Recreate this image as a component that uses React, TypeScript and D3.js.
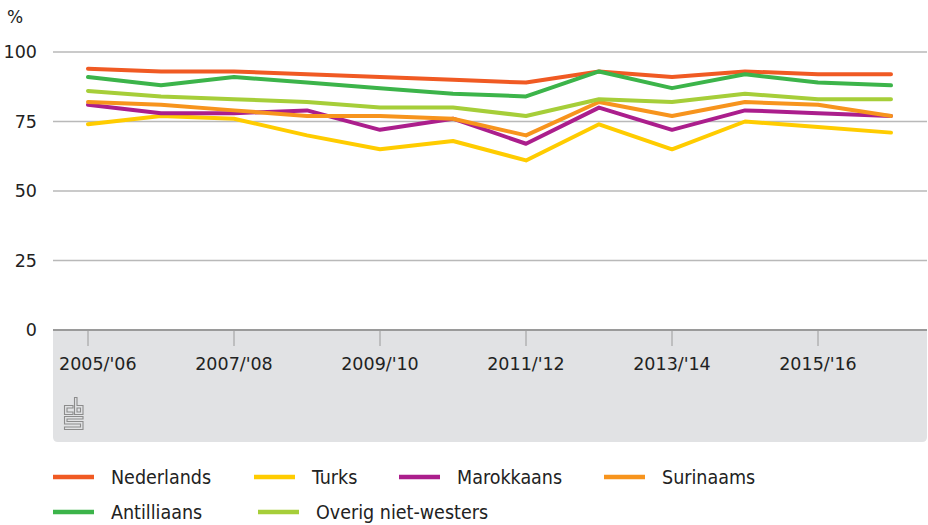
import React from "react";
import * as d3 from "d3";

const years = ["2005/'06", "2006/'07", "2007/'08", "2008/'09", "2009/'10", "2010/'11", "2011/'12", "2012/'13", "2013/'14", "2014/'15", "2015/'16", "2016/'17"];
const nederlands = [94, 93, 93, 92, 91, 90, 89, 93, 91, 93, 92, 92];
const turks = [74, 77, 76, 70, 65, 68, 61, 74, 65, 75, 73, 71];
const marokkaans = [81, 78, 78, 79, 72, 76, 67, 80, 72, 79, 78, 77];
const surinaams = [82, 81, 79, 77, 77, 76, 70, 82, 77, 82, 81, 77];
const antilliaans = [91, 88, 91, 89, 87, 85, 84, 93, 87, 92, 89, 88];
const overig = [86, 84, 83, 82, 80, 80, 77, 83, 82, 85, 83, 83];
const yTicks = [0, 25, 50, 75, 100];
const seriesNames = ["Nederlands", "Turks", "Marokkaans", "Surinaams", "Antilliaans", "Overig niet-westers"];
const seriesValues = [nederlands, turks, marokkaans, surinaams, antilliaans, overig];
const seriesColors = ["#f05a23", "#ffcc00", "#ab1e8c", "#f7941d", "#3cb44a", "#a6ce39"];

const W = 928;
const H = 525;
const plotLeft = 53;
const plotRight = 927;
const panelBottom = 442;
const tickFont = "'DejaVu Sans', sans-serif";
const legendFont = "'DejaVu Sans Condensed', 'DejaVu Sans', sans-serif";

// legend layout: [x of swatch, row]
const legendLayout: [number, number][] = [
  [53, 0], [254, 0], [399, 0], [604, 0], [53, 1], [258, 1],
];
const legendRowY = [477, 512];

export default function App() {
  const x = d3.scaleLinear().domain([0, years.length - 1]).range([88, 891]);
  const y = d3.scaleLinear().domain([0, 100]).range([330, 52]);
  const line = d3
    .line<number>()
    .x((_, i) => x(i))
    .y((d) => y(d));

  const r = 5;
  const y0 = y(0);
  const panelPath = `M${plotLeft},${y0} H${plotRight} V${panelBottom - r} Q${plotRight},${panelBottom} ${plotRight - r},${panelBottom} H${plotLeft + r} Q${plotLeft},${panelBottom} ${plotLeft},${panelBottom - r} Z`;

  const labelIdx = years.map((_, i) => i).filter((i) => i % 2 === 0);

  return (
    <svg width={W} height={H} style={{ position: "absolute", left: 0, top: 0, background: "#fff" }}>
      <path d={panelPath} fill="#e1e2e4" />
      {yTicks.map((t) => (
        <g key={t}>
          {t !== 0 && (
            <line x1={plotLeft} x2={plotRight} y1={y(t)} y2={y(t)} stroke="#b9b9b9" strokeWidth={1.5} />
          )}
          <text x={37} y={y(t)} dy="0.36em" textAnchor="end" fontFamily={tickFont} fontSize={17.5} fill="#222">
            {t}
          </text>
        </g>
      ))}
      <text x={7} y={23} fontFamily={tickFont} fontSize={17} fill="#222">%</text>
      {labelIdx.map((i) => (
        <g key={i}>
          <line x1={x(i)} x2={x(i)} y1={y0} y2={y0 + 16} stroke="#9a9a9a" strokeWidth={1} />
          <text
            x={i === 0 ? plotLeft + 6 : x(i)}
            y={370}
            textAnchor={i === 0 ? "start" : "middle"}
            fontFamily={tickFont}
            fontSize={17.5}
            fill="#222"
          >
            {years[i]}
          </text>
        </g>
      ))}
      <line x1={plotLeft} x2={plotRight} y1={y0} y2={y0} stroke="#9a9a9a" strokeWidth={2} />
      {/* CBS logo */}
      <g transform="translate(64.5,397.5)" fill="none" stroke="#8c8c8c" strokeWidth={1.1}>
        <path d="M8.5,8 H0 V17 H8.5 V14.5 H2.5 V10.5 H8.5 Z" />
        <path d="M10,0 H12.5 V8 H18.5 V17 H10 Z M12.5,10.5 V14.5 H16 V10.5 Z" />
        <path d="M0,19 H18.5 V21.5 H2.5 V24 H18.5 V32 H0 V29.5 H16 V26.5 H0 Z" />
      </g>
      {seriesValues.map((vals, k) => (
        <path
          key={seriesNames[k]}
          d={line(vals) || ""}
          fill="none"
          stroke={seriesColors[k]}
          strokeWidth={4}
          strokeLinejoin="round"
          strokeLinecap="round"
        />
      ))}
      {seriesNames.map((name, k) => {
        const [lx, row] = legendLayout[k];
        const ly = legendRowY[row];
        return (
          <g key={name}>
            <line x1={lx} x2={lx + 41} y1={ly} y2={ly} stroke={seriesColors[k]} strokeWidth={4.5} />
            <text x={lx + 58} y={ly} dy="0.36em" fontFamily={legendFont} fontSize={19.5} fill="#222">
              {name}
            </text>
          </g>
        );
      })}
    </svg>
  );
}
